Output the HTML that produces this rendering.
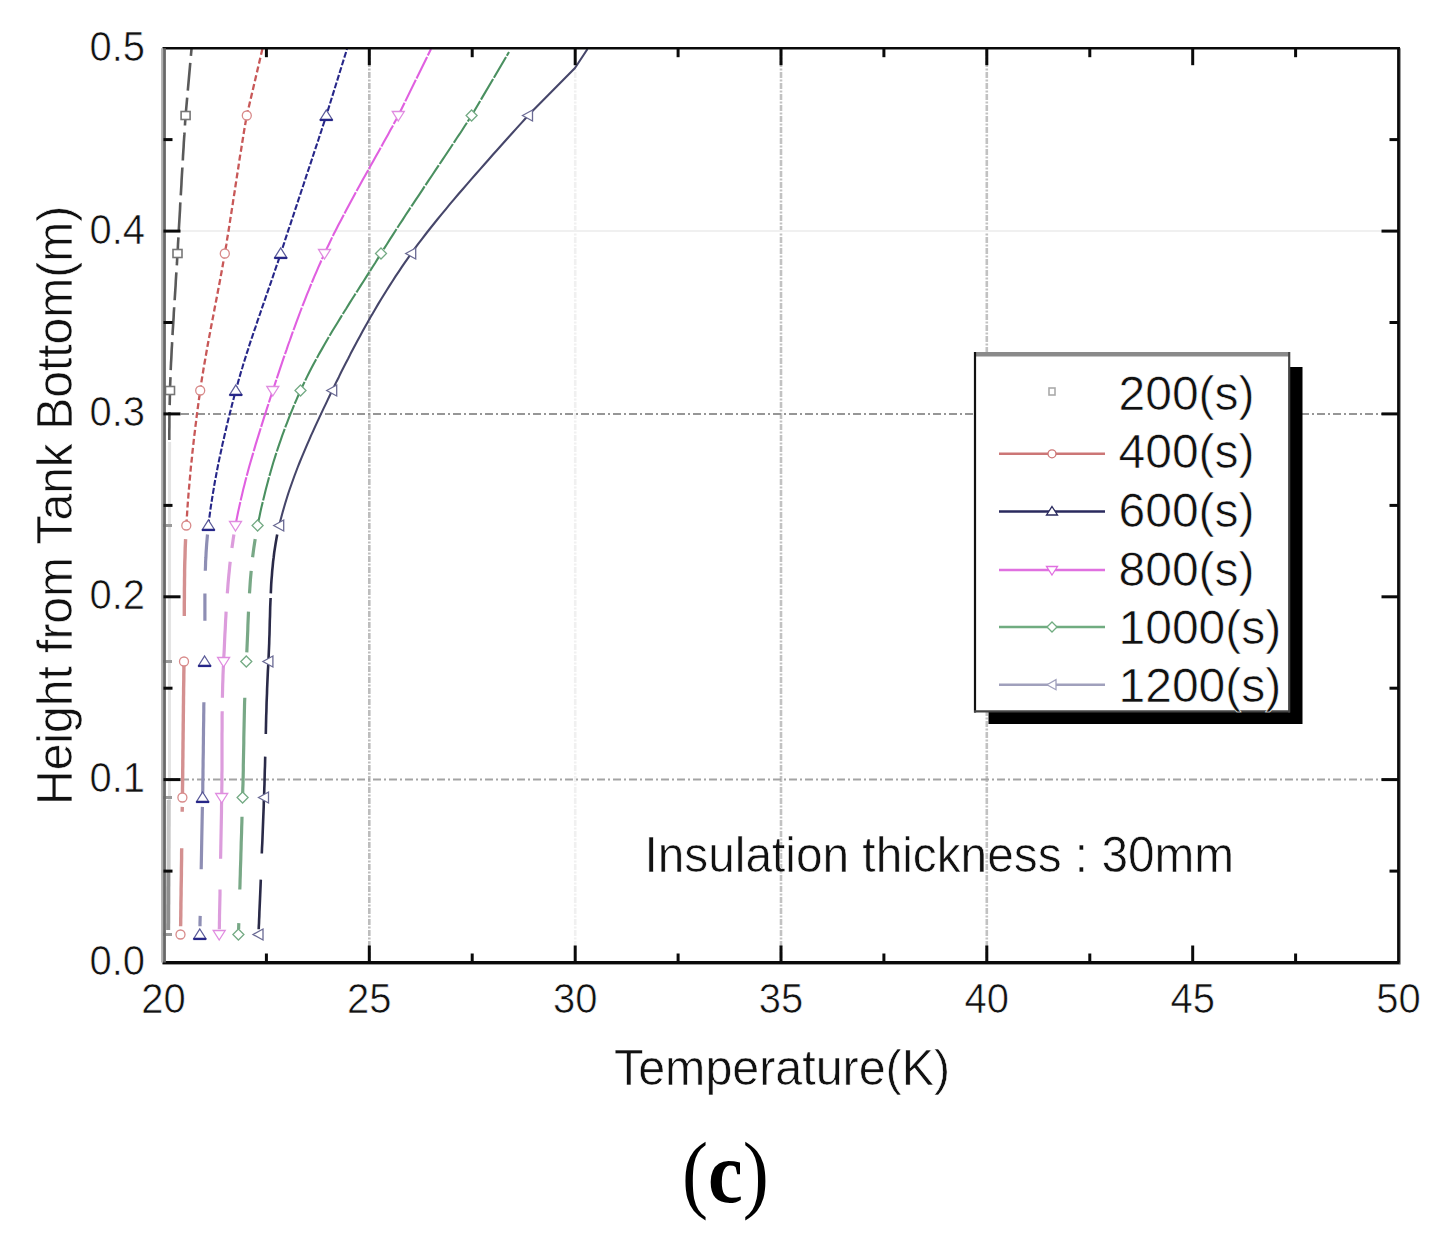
<!DOCTYPE html><html><head><meta charset="utf-8"><style>html,body{margin:0;padding:0;background:#fff;overflow:hidden;}svg{display:block;}text{font-family:"Liberation Sans",sans-serif;stroke:#fff;stroke-width:0.6px;}</style></head><body>
<svg width="1446" height="1250" viewBox="0 0 1446 1250">
<rect width="1446" height="1250" fill="#fff"/>
<line x1="369.3" y1="50" x2="369.3" y2="961" stroke="#bdbdbd" stroke-width="2.6" stroke-dasharray="6,1.5,2,1.5"/>
<line x1="575.2" y1="50" x2="575.2" y2="961" stroke="#f0f0f0" stroke-width="2.6" stroke-dasharray="6,1.5,2,1.5"/>
<line x1="781.0" y1="50" x2="781.0" y2="961" stroke="#c2c2c2" stroke-width="2.6" stroke-dasharray="6,1.5,2,1.5"/>
<line x1="986.8" y1="50" x2="986.8" y2="961" stroke="#c2c2c2" stroke-width="2.6" stroke-dasharray="6,1.5,2,1.5"/>
<line x1="165" y1="413.9" x2="1397" y2="413.9" stroke="#969696" stroke-width="2" stroke-dasharray="8,3,2,3"/>
<line x1="165" y1="779.6" x2="1397" y2="779.6" stroke="#a4a4a4" stroke-width="2" stroke-dasharray="8,3,2,3"/>
<line x1="165" y1="231.1" x2="1397" y2="231.1" stroke="#f0f0f0" stroke-width="2" stroke-dasharray="none"/>
<line x1="169.5" y1="800" x2="169.6" y2="442" stroke="#e4e4e4" stroke-width="3"/>
<line x1="168.6" y1="870" x2="168.8" y2="800" stroke="#c8c8c8" stroke-width="4"/>
<line x1="168.2" y1="930" x2="168.4" y2="870" stroke="#8e8e8e" stroke-width="4"/>
<path d="M169.3,440.1 L169.3,435.6 L169.3,431.1 L169.4,426.6 L169.4,422.1 L169.4,417.6 L169.5,413.1 L169.6,408.6 L169.7,404.1 L169.8,399.6 L169.9,395.0 L170.0,390.5 L170.1,386.0 L170.3,381.4 L170.5,376.9 L170.6,372.3 L170.8,367.8 L171.0,363.2 L171.3,358.7 L171.5,354.1 L171.7,349.6 L172.0,345.0 L172.2,340.5 L172.5,335.9 L172.7,331.3 L173.0,326.8 L173.3,322.2 L173.6,317.6 L173.8,313.0 L174.1,308.5 L174.4,303.9 L174.7,299.3 L175.0,294.7 L175.3,290.2 L175.6,285.6 L175.8,281.0 L176.1,276.4 L176.4,271.8 L176.7,267.2 L177.0,262.7 L177.2,258.1 L177.5,253.5 L177.8,248.9 L178.0,244.2 L178.3,239.4 L178.6,234.6 L178.8,229.7 L179.1,224.8 L179.4,219.9 L179.7,214.9 L180.0,209.9 L180.2,204.9 L180.5,199.9 L180.8,194.9 L181.1,190.0 L181.4,185.0 L181.6,180.1 L181.9,175.2 L182.2,170.4 L182.5,165.6 L182.8,160.9 L183.0,156.2 L183.3,151.7 L183.6,147.2 L183.8,142.8 L184.1,138.5 L184.4,134.4 L184.6,130.3 L184.9,126.4 L185.1,122.6 L185.4,119.0 L185.6,115.5 L191.5,49.0" fill="none" stroke="#5a5a5a" stroke-width="2.6" stroke-dasharray="28,7" stroke-linejoin="round"/>
<path d="M184.3,616.1 L184.3,611.6 L184.3,607.1 L184.3,602.5 L184.4,598.0 L184.4,593.4 L184.4,588.9 L184.5,584.4 L184.5,579.8 L184.6,575.3 L184.6,570.8 L184.7,566.2 L184.8,561.7 L185.0,557.2 L185.1,552.6 L185.2,548.1 L185.4,543.6 L185.6,539.1 M182.5,793.0 L182.5,788.4 L182.6,783.9 L182.6,779.3 L182.7,774.8 L182.7,770.2 L182.8,765.7 L182.8,761.2 L182.9,756.6 L182.9,752.1 L183.0,747.6 L183.0,743.0 L183.1,738.5 L183.1,734.0 L183.2,729.4 L183.2,724.9 L183.3,720.4 L183.3,715.9 L183.4,711.3 L183.4,706.8 L183.5,702.3 L183.5,697.7 L183.6,693.2 L183.6,688.7 L183.7,684.2 L183.8,679.6 L183.8,675.1 L183.9,670.6 L183.9,666.0 M182.2,811.8 L182.3,806.9 M180.6,926.3 L180.7,923.1 L180.7,919.6 L180.8,915.9 L180.8,911.9 L180.9,907.8 L180.9,903.4 L181.0,898.9 L181.1,894.3 L181.1,889.5 L181.2,884.6 L181.3,879.6 L181.4,874.5 L181.4,869.3 L181.5,864.1 L181.6,858.8 L181.6,853.5 L181.7,848.2" fill="none" stroke="#d49090" stroke-width="3.4"/>
<path d="M186.3,525.5 L186.6,521.0 L186.9,516.5 L187.2,512.0 L187.5,507.5 L187.8,503.0 L188.2,498.5 L188.5,494.0 L188.9,489.5 L189.3,485.0 L189.7,480.5 L190.1,476.0 L190.5,471.5 L190.9,467.0 L191.4,462.5 L191.9,458.1 L192.3,453.6 L192.8,449.1 L193.3,444.6 L193.8,440.1 L194.3,435.6 L194.9,431.1 L195.4,426.6 L196.0,422.1 L196.5,417.6 L197.1,413.1 L197.7,408.6 L198.3,404.1 L198.9,399.6 L199.6,395.0 L200.2,390.5 L200.9,386.0 L201.5,381.4 L202.2,376.9 L203.0,372.3 L203.7,367.8 L204.5,363.2 L205.3,358.7 L206.1,354.1 L206.9,349.6 L207.7,345.0 L208.5,340.5 L209.4,335.9 L210.3,331.3 L211.1,326.8 L212.0,322.2 L212.9,317.6 L213.8,313.0 L214.6,308.5 L215.5,303.9 L216.4,299.3 L217.3,294.7 L218.1,290.2 L219.0,285.6 L219.9,281.0 L220.7,276.4 L221.6,271.8 L222.4,267.2 L223.2,262.7 L224.0,258.1 L224.8,253.5 L225.6,248.9 L226.4,244.2 L227.1,239.4 L227.9,234.6 L228.7,229.7 L229.5,224.8 L230.2,219.9 L231.0,214.9 L231.8,209.9 L232.6,204.9 L233.3,199.9 L234.1,194.9 L234.9,190.0 L235.6,185.0 L236.4,180.1 L237.1,175.2 L237.9,170.4 L238.6,165.6 L239.3,160.9 L240.0,156.2 L240.8,151.7 L241.5,147.2 L242.2,142.8 L242.9,138.5 L243.5,134.4 L244.2,130.3 L244.9,126.4 L245.5,122.6 L246.2,119.0 L246.8,115.5 L262.4,49.0" fill="none" stroke="#c85858" stroke-width="2.3" stroke-dasharray="6,3" stroke-linejoin="round"/>
<path d="M205.3,570.8 L205.5,566.2 L205.6,561.7 L205.9,557.2 L206.1,552.6 L206.4,548.1 L206.7,543.6 L207.1,539.1 L207.5,534.5 M204.9,620.7 L204.9,616.1 L204.9,611.6 L204.9,607.1 L204.9,602.5 L204.9,598.0 L204.9,593.4 M202.7,793.0 L202.8,788.4 L202.8,783.9 L202.9,779.3 L203.0,774.8 L203.0,770.2 L203.1,765.7 L203.1,761.2 L203.2,756.6 L203.3,752.1 L203.3,747.6 L203.4,743.0 L203.4,738.5 L203.5,734.0 L203.5,729.4 L203.6,724.9 L203.7,720.4 L203.7,715.9 L203.8,711.3 L203.8,706.8 L203.9,702.3 M201.2,869.3 L201.3,864.1 L201.4,858.8 L201.5,853.5 L201.6,848.2 L201.7,842.8 L201.8,837.5 L201.9,832.3 L202.0,827.0 L202.1,821.9 L202.2,816.8 L202.3,811.8 L202.4,806.9 M200.0,926.3 L200.0,923.1 L200.1,919.6 L200.2,915.9" fill="none" stroke="#8e8eb4" stroke-width="3.2"/>
<path d="M208.4,525.5 L208.9,521.0 L209.5,516.5 L210.1,512.0 L210.7,507.5 L211.4,503.0 L212.1,498.5 L212.8,494.0 L213.6,489.5 L214.3,485.0 L215.1,480.5 L216.0,476.0 L216.8,471.5 L217.7,467.0 L218.6,462.5 L219.5,458.1 L220.5,453.6 L221.5,449.1 L222.4,444.6 L223.5,440.1 L224.5,435.6 L225.6,431.1 L226.6,426.6 L227.7,422.1 L228.8,417.6 L229.9,413.1 L231.1,408.6 L232.2,404.1 L233.4,399.6 L234.6,395.0 L235.8,390.5 L237.0,386.0 L238.3,381.4 L239.6,376.9 L240.9,372.3 L242.3,367.8 L243.6,363.2 L245.1,358.7 L246.5,354.1 L248.0,349.6 L249.4,345.0 L250.9,340.5 L252.5,335.9 L254.0,331.3 L255.6,326.8 L257.1,322.2 L258.7,317.6 L260.3,313.0 L261.8,308.5 L263.4,303.9 L265.0,299.3 L266.6,294.7 L268.2,290.2 L269.8,285.6 L271.4,281.0 L273.0,276.4 L274.5,271.8 L276.1,267.2 L277.7,262.7 L279.2,258.1 L280.7,253.5 L282.2,248.9 L283.8,244.2 L285.3,239.4 L286.9,234.6 L288.5,229.7 L290.2,224.8 L291.8,219.9 L293.5,214.9 L295.1,209.9 L296.8,204.9 L298.4,199.9 L300.1,194.9 L301.7,190.0 L303.4,185.0 L305.0,180.1 L306.6,175.2 L308.2,170.4 L309.8,165.6 L311.4,160.9 L312.9,156.2 L314.4,151.7 L315.9,147.2 L317.4,142.8 L318.8,138.5 L320.1,134.4 L321.5,130.3 L322.7,126.4 L324.0,122.6 L325.2,119.0 L326.3,115.5 L347.0,49.0" fill="none" stroke="#262688" stroke-width="2.1" stroke-dasharray="6,2" stroke-linejoin="round"/>
<path d="M231.9,548.1 L232.6,543.6 L233.2,539.1 L233.9,534.5 M227.3,593.4 L227.7,588.9 L228.0,584.4 L228.4,579.8 L228.8,575.3 L229.3,570.8 L229.7,566.2 L230.2,561.7 M223.8,657.0 L224.1,652.4 L224.3,647.9 L224.5,643.4 L224.7,638.8 L224.9,634.3 L225.2,629.7 L225.4,625.2 L225.6,620.7 L225.9,616.1 L226.1,611.6 M222.4,697.7 L222.5,693.2 L222.6,688.7 L222.7,684.2 L222.9,679.6 L223.0,675.1 L223.2,670.6 L223.4,666.0 M220.6,858.8 L220.7,853.5 L220.8,848.2 L220.9,842.8 L221.0,837.5 L221.1,832.3 L221.2,827.0 L221.3,821.9 L221.4,816.8 L221.5,811.8 L221.5,806.9 L221.6,802.1 L221.7,797.5 L221.8,793.0 L221.8,788.4 L221.9,783.9 L221.9,779.3 L221.9,774.8 L222.0,770.2 L222.0,765.7 L222.0,761.2 L222.0,756.6 L222.0,752.1 L222.0,747.6 L222.0,743.0 L222.0,738.5 L222.0,734.0 L222.1,729.4 L222.1,724.9 L222.1,720.4 L222.1,715.9 L222.2,711.3 M219.3,929.3 L219.4,926.3 L219.4,923.1 L219.5,919.6 L219.5,915.9 L219.6,911.9 L219.7,907.8 L219.8,903.4 L219.9,898.9 L220.0,894.3 L220.0,889.5" fill="none" stroke="#dc9cdc" stroke-width="3.2"/>
<path d="M235.5,525.5 L236.3,521.0 L237.2,516.5 L238.1,512.0 L239.1,507.5 L240.1,503.0 L241.1,498.5 L242.2,494.0 L243.2,489.5 L244.4,485.0 L245.5,480.5 L246.7,476.0 L247.9,471.5 L249.1,467.0 L250.4,462.5 L251.7,458.1 L253.0,453.6 L254.3,449.1 L255.6,444.6 L257.0,440.1 L258.4,435.6 L259.8,431.1 L261.2,426.6 L262.6,422.1 L264.0,417.6 L265.5,413.1 L266.9,408.6 L268.4,404.1 L269.8,399.6 L271.3,395.0 L272.8,390.5 L274.3,386.0 L275.8,381.4 L277.3,376.9 L278.8,372.3 L280.3,367.8 L281.9,363.2 L283.4,358.7 L285.0,354.1 L286.6,349.6 L288.1,345.0 L289.8,340.5 L291.4,335.9 L293.0,331.3 L294.7,326.8 L296.4,322.2 L298.1,317.6 L299.8,313.0 L301.5,308.5 L303.3,303.9 L305.1,299.3 L306.9,294.7 L308.8,290.2 L310.6,285.6 L312.5,281.0 L314.4,276.4 L316.4,271.8 L318.4,267.2 L320.4,262.7 L322.4,258.1 L324.5,253.5 L326.6,248.9 L328.9,244.2 L331.2,239.4 L333.5,234.6 L336.0,229.7 L338.5,224.8 L341.1,219.9 L343.7,214.9 L346.3,209.9 L349.0,204.9 L351.7,199.9 L354.4,194.9 L357.1,190.0 L359.9,185.0 L362.6,180.1 L365.3,175.2 L368.0,170.4 L370.7,165.6 L373.3,160.9 L375.9,156.2 L378.5,151.7 L381.0,147.2 L383.4,142.8 L385.8,138.5 L388.1,134.4 L390.3,130.3 L392.5,126.4 L394.5,122.6 L396.5,119.0 L398.3,115.5 L431.0,49.0" fill="none" stroke="#e060e0" stroke-width="2.1" stroke-dasharray="24,1.5" stroke-linejoin="round"/>
<path d="M252.6,557.2 L253.2,552.6 L253.8,548.1 L254.5,543.6 L255.2,539.1 M249.5,593.4 L249.8,588.9 L250.1,584.4 L250.4,579.8 L250.8,575.3 L251.2,570.8 M246.8,652.4 L247.0,647.9 L247.2,643.4 L247.4,638.8 L247.6,634.3 L247.8,629.7 L247.9,625.2 L248.1,620.7 L248.3,616.1 L248.5,611.6 M242.7,793.0 L242.8,788.4 L243.0,783.9 L243.1,779.3 L243.2,774.8 L243.3,770.2 L243.3,765.7 L243.4,761.2 L243.5,756.6 L243.6,752.1 L243.7,747.6 L243.8,743.0 L243.8,738.5 L243.9,734.0 L244.0,729.4 L244.1,724.9 L244.2,720.4 L244.3,715.9 L244.4,711.3 L244.5,706.8 L244.6,702.3 L244.8,697.7 M239.8,889.5 L240.0,884.6 L240.1,879.6 L240.3,874.5 L240.4,869.3 L240.6,864.1 L240.8,858.8 L240.9,853.5 L241.1,848.2 L241.2,842.8 L241.4,837.5 L241.6,832.3 L241.7,827.0 L241.9,821.9 L242.0,816.8 M238.6,929.3 L238.7,926.3 L238.8,923.1" fill="none" stroke="#78a886" stroke-width="3.2"/>
<path d="M257.6,525.5 L258.5,521.0 L259.5,516.5 L260.4,512.0 L261.4,507.5 L262.5,503.0 L263.6,498.5 L264.7,494.0 L265.8,489.5 L267.0,485.0 L268.2,480.5 L269.4,476.0 L270.7,471.5 L272.0,467.0 L273.3,462.5 L274.7,458.1 L276.1,453.6 L277.6,449.1 L279.1,444.6 L280.7,440.1 L282.2,435.6 L283.9,431.1 L285.5,426.6 L287.3,422.1 L289.0,417.6 L290.8,413.1 L292.7,408.6 L294.5,404.1 L296.5,399.6 L298.5,395.0 L300.5,390.5 L302.6,386.0 L304.8,381.4 L307.0,376.9 L309.3,372.3 L311.6,367.8 L314.0,363.2 L316.5,358.7 L319.0,354.1 L321.6,349.6 L324.2,345.0 L326.8,340.5 L329.5,335.9 L332.2,331.3 L335.0,326.8 L337.8,322.2 L340.6,317.6 L343.4,313.0 L346.3,308.5 L349.1,303.9 L352.0,299.3 L354.9,294.7 L357.8,290.2 L360.7,285.6 L363.7,281.0 L366.6,276.4 L369.5,271.8 L372.4,267.2 L375.3,262.7 L378.1,258.1 L381.0,253.5 L383.9,248.9 L386.9,244.2 L389.9,239.4 L393.0,234.6 L396.1,229.7 L399.3,224.8 L402.6,219.8 L405.8,214.8 L409.1,209.8 L412.4,204.8 L415.7,199.8 L419.1,194.8 L422.4,189.8 L425.7,184.8 L429.0,179.9 L432.3,175.0 L435.5,170.2 L438.7,165.4 L441.9,160.7 L445.0,156.0 L448.0,151.5 L451.0,147.0 L453.9,142.6 L456.7,138.3 L459.5,134.2 L462.1,130.2 L464.6,126.3 L467.1,122.5 L469.4,118.9 L471.6,115.5 L509.0,52.0" fill="none" stroke="#4a9060" stroke-width="2.1" stroke-dasharray="24,1.5" stroke-linejoin="round"/>
<path d="M270.8,593.4 L271.0,588.9 L271.2,584.4 L271.5,579.8 L271.9,575.3 L272.2,570.8 L272.7,566.2 L273.1,561.7 L273.7,557.2 L274.2,552.6 L274.9,548.1 L275.6,543.6 L276.4,539.1 L277.2,534.5 M265.8,734.0 L265.9,729.4 L266.0,724.9 L266.1,720.4 L266.2,715.9 L266.4,711.3 L266.5,706.8 L266.6,702.3 L266.8,697.7 L267.0,693.2 L267.1,688.7 L267.3,684.2 L267.5,679.6 L267.7,675.1 L267.9,670.6 L268.2,666.0 L268.4,661.5 L268.6,657.0 L268.8,652.4 L269.0,647.9 L269.2,643.4 L269.3,638.8 L269.5,634.3 L269.6,629.7 L269.7,625.2 L269.8,620.7 L270.0,616.1 L270.1,611.6 L270.2,607.1 L270.4,602.5 L270.6,598.0 M261.8,853.5 L262.0,848.2 L262.3,842.8 L262.5,837.5 L262.7,832.3 L262.9,827.0 L263.1,821.9 L263.3,816.8 L263.5,811.8 L263.7,806.9 L263.8,802.1 L264.0,797.5 L264.2,793.0 L264.3,788.4 L264.5,783.9 L264.6,779.3 L264.7,774.8 L264.8,770.2 L265.0,765.7 L265.1,761.2 L265.2,756.6 M258.7,929.3 L258.8,926.3 L259.0,923.1 L259.1,919.6 L259.3,915.9 L259.4,911.9 L259.6,907.8 L259.8,903.4 L260.0,898.9 L260.2,894.3 L260.4,889.5 L260.6,884.6 L260.8,879.6" fill="none" stroke="#2a2a48" stroke-width="2.6"/>
<path d="M279.2,525.5 L280.3,521.0 L281.5,516.5 L282.7,512.0 L284.0,507.5 L285.3,503.0 L286.7,498.5 L288.1,494.0 L289.6,489.5 L291.2,485.0 L292.8,480.5 L294.4,476.0 L296.1,471.5 L297.8,467.0 L299.6,462.5 L301.4,458.1 L303.3,453.6 L305.2,449.1 L307.1,444.6 L309.1,440.1 L311.0,435.6 L313.1,431.1 L315.1,426.6 L317.2,422.1 L319.3,417.6 L321.4,413.1 L323.5,408.6 L325.7,404.1 L327.8,399.6 L330.0,395.0 L332.2,390.5 L334.4,386.0 L336.6,381.4 L338.9,376.9 L341.1,372.3 L343.4,367.8 L345.7,363.2 L348.1,358.7 L350.4,354.1 L352.8,349.6 L355.2,345.0 L357.6,340.5 L360.1,335.9 L362.6,331.3 L365.1,326.8 L367.7,322.2 L370.3,317.6 L373.0,313.0 L375.6,308.5 L378.3,303.9 L381.1,299.3 L383.9,294.7 L386.7,290.2 L389.6,285.6 L392.6,281.0 L395.5,276.4 L398.6,271.8 L401.7,267.2 L404.8,262.7 L408.0,258.1 L411.2,253.5 L414.5,248.9 L418.0,244.1 L421.7,239.3 L425.4,234.5 L429.3,229.5 L433.3,224.5 L437.3,219.5 L441.5,214.4 L445.7,209.3 L449.9,204.2 L454.2,199.1 L458.5,194.0 L462.9,189.0 L467.3,183.9 L471.6,178.9 L475.9,174.0 L480.2,169.1 L484.5,164.2 L488.7,159.5 L492.8,154.8 L496.9,150.3 L500.9,145.8 L504.7,141.5 L508.5,137.3 L512.1,133.3 L515.6,129.4 L519.0,125.6 L522.2,122.1 L525.2,118.7 L528.0,115.5 L575.0,68.0 L587.5,49.0" fill="none" stroke="#46466a" stroke-width="2.1" stroke-linejoin="round"/>
<rect x="163" y="933.0" width="9" height="3" fill="#9a9a9a"/>
<rect x="163" y="796.0" width="9" height="3" fill="#9a9a9a"/>
<rect x="163" y="660.0" width="9" height="3" fill="#9a9a9a"/>
<rect x="163" y="524.0" width="9" height="3" fill="#9a9a9a"/>
<rect x="165.5" y="386.5" width="9" height="8" fill="#fff" stroke="#777777" stroke-width="1.6"/>
<rect x="173.0" y="249.5" width="9" height="8" fill="#fff" stroke="#777777" stroke-width="1.6"/>
<rect x="181.1" y="111.5" width="9" height="8" fill="#fff" stroke="#777777" stroke-width="1.6"/>
<circle cx="180.5" cy="934.5" r="4.5" fill="#fff" stroke="#d88a8a" stroke-width="1.3"/>
<circle cx="182.4" cy="797.5" r="4.5" fill="#fff" stroke="#d88a8a" stroke-width="1.3"/>
<circle cx="184.0" cy="661.5" r="4.5" fill="#fff" stroke="#d88a8a" stroke-width="1.3"/>
<circle cx="186.3" cy="525.5" r="4.5" fill="#fff" stroke="#d88a8a" stroke-width="1.3"/>
<circle cx="200.2" cy="390.5" r="4.5" fill="#fff" stroke="#d88a8a" stroke-width="1.3"/>
<circle cx="224.8" cy="253.5" r="4.5" fill="#fff" stroke="#d88a8a" stroke-width="1.3"/>
<circle cx="246.8" cy="115.5" r="4.5" fill="#fff" stroke="#d88a8a" stroke-width="1.3"/>
<path d="M199.8,929.0 L205.8,938.5 L193.8,938.5Z" fill="#fff" stroke="#5a5a98" stroke-width="1.3"/>
<line x1="193.3" y1="939.0" x2="206.3" y2="939.0" stroke="#262688" stroke-width="2.2"/>
<path d="M202.6,792.0 L208.6,801.5 L196.6,801.5Z" fill="#fff" stroke="#5a5a98" stroke-width="1.3"/>
<line x1="196.1" y1="802.0" x2="209.1" y2="802.0" stroke="#262688" stroke-width="2.2"/>
<path d="M204.6,656.0 L210.6,665.5 L198.6,665.5Z" fill="#fff" stroke="#5a5a98" stroke-width="1.3"/>
<line x1="198.1" y1="666.0" x2="211.1" y2="666.0" stroke="#262688" stroke-width="2.2"/>
<path d="M208.4,520.0 L214.4,529.5 L202.4,529.5Z" fill="#fff" stroke="#5a5a98" stroke-width="1.3"/>
<line x1="201.9" y1="530.0" x2="214.9" y2="530.0" stroke="#262688" stroke-width="2.2"/>
<path d="M235.8,385.0 L241.8,394.5 L229.8,394.5Z" fill="#fff" stroke="#5a5a98" stroke-width="1.3"/>
<line x1="229.3" y1="395.0" x2="242.3" y2="395.0" stroke="#262688" stroke-width="2.2"/>
<path d="M280.7,248.0 L286.7,257.5 L274.7,257.5Z" fill="#fff" stroke="#5a5a98" stroke-width="1.3"/>
<line x1="274.2" y1="258.0" x2="287.2" y2="258.0" stroke="#262688" stroke-width="2.2"/>
<path d="M326.3,110.0 L332.3,119.5 L320.3,119.5Z" fill="#fff" stroke="#5a5a98" stroke-width="1.3"/>
<line x1="319.8" y1="120.0" x2="332.8" y2="120.0" stroke="#262688" stroke-width="2.2"/>
<path d="M219.2,940.0 L225.2,930.5 L213.2,930.5Z" fill="#fff" stroke="#e08ce0" stroke-width="1.3"/>
<path d="M221.7,803.0 L227.7,793.5 L215.7,793.5Z" fill="#fff" stroke="#e08ce0" stroke-width="1.3"/>
<path d="M223.6,667.0 L229.6,657.5 L217.6,657.5Z" fill="#fff" stroke="#e08ce0" stroke-width="1.3"/>
<path d="M235.5,531.0 L241.5,521.5 L229.5,521.5Z" fill="#fff" stroke="#e08ce0" stroke-width="1.3"/>
<path d="M272.8,396.0 L278.8,386.5 L266.8,386.5Z" fill="#fff" stroke="#e08ce0" stroke-width="1.3"/>
<path d="M324.5,259.0 L330.5,249.5 L318.5,249.5Z" fill="#fff" stroke="#e08ce0" stroke-width="1.3"/>
<path d="M398.3,121.0 L404.3,111.5 L392.3,111.5Z" fill="#fff" stroke="#e08ce0" stroke-width="1.3"/>
<path d="M238.4,929.0 L243.9,934.5 L238.4,940.0 L232.9,934.5Z" fill="#fff" stroke="#74aa84" stroke-width="1.3"/>
<path d="M242.6,792.0 L248.1,797.5 L242.6,803.0 L237.1,797.5Z" fill="#fff" stroke="#74aa84" stroke-width="1.3"/>
<path d="M246.3,656.0 L251.8,661.5 L246.3,667.0 L240.8,661.5Z" fill="#fff" stroke="#74aa84" stroke-width="1.3"/>
<path d="M257.6,520.0 L263.1,525.5 L257.6,531.0 L252.1,525.5Z" fill="#fff" stroke="#74aa84" stroke-width="1.3"/>
<path d="M300.5,385.0 L306.0,390.5 L300.5,396.0 L295.0,390.5Z" fill="#fff" stroke="#74aa84" stroke-width="1.3"/>
<path d="M381.0,248.0 L386.5,253.5 L381.0,259.0 L375.5,253.5Z" fill="#fff" stroke="#74aa84" stroke-width="1.3"/>
<path d="M471.6,110.0 L477.1,115.5 L471.6,121.0 L466.1,115.5Z" fill="#fff" stroke="#74aa84" stroke-width="1.3"/>
<path d="M253.0,934.5 L263.0,929.0 L263.0,940.0Z" fill="#fff" stroke="#6a6a94" stroke-width="1.3"/>
<path d="M258.5,797.5 L268.5,792.0 L268.5,803.0Z" fill="#fff" stroke="#6a6a94" stroke-width="1.3"/>
<path d="M262.9,661.5 L272.9,656.0 L272.9,667.0Z" fill="#fff" stroke="#6a6a94" stroke-width="1.3"/>
<path d="M273.7,525.5 L283.7,520.0 L283.7,531.0Z" fill="#fff" stroke="#6a6a94" stroke-width="1.3"/>
<path d="M326.7,390.5 L336.7,385.0 L336.7,396.0Z" fill="#fff" stroke="#6a6a94" stroke-width="1.3"/>
<path d="M405.7,253.5 L415.7,248.0 L415.7,259.0Z" fill="#fff" stroke="#6a6a94" stroke-width="1.3"/>
<path d="M522.5,115.5 L532.5,110.0 L532.5,121.0Z" fill="#fff" stroke="#6a6a94" stroke-width="1.3"/>
<line x1="162.5" y1="48.2" x2="1400.0" y2="48.2" stroke="#0a0a0a" stroke-width="2.6"/>
<line x1="162.5" y1="964.1" x2="1400.0" y2="964.1" stroke="#9a9a9a" stroke-width="1.6"/>
<line x1="162.5" y1="962.5" x2="1400.0" y2="962.5" stroke="#0a0a0a" stroke-width="3"/>
<line x1="1400.3" y1="48.2" x2="1400.3" y2="964.5" stroke="#9a9a9a" stroke-width="1.4"/>
<line x1="1398.5" y1="48.2" x2="1398.5" y2="962.5" stroke="#0a0a0a" stroke-width="2.8"/>
<line x1="162.1" y1="48.2" x2="162.1" y2="962.5" stroke="#b0b0b0" stroke-width="2"/>
<line x1="164.5" y1="48.2" x2="164.5" y2="962.5" stroke="#686868" stroke-width="2.8"/>
<line x1="266.4" y1="962.5" x2="266.4" y2="953.5" stroke="#0a0a0a" stroke-width="3"/>
<line x1="266.4" y1="48.2" x2="266.4" y2="57.2" stroke="#0a0a0a" stroke-width="3"/>
<line x1="369.3" y1="962.5" x2="369.3" y2="945.5" stroke="#0a0a0a" stroke-width="3"/>
<line x1="369.3" y1="48.2" x2="369.3" y2="65.2" stroke="#0a0a0a" stroke-width="3"/>
<line x1="472.2" y1="962.5" x2="472.2" y2="953.5" stroke="#0a0a0a" stroke-width="3"/>
<line x1="472.2" y1="48.2" x2="472.2" y2="57.2" stroke="#0a0a0a" stroke-width="3"/>
<line x1="575.2" y1="962.5" x2="575.2" y2="945.5" stroke="#0a0a0a" stroke-width="3"/>
<line x1="575.2" y1="48.2" x2="575.2" y2="65.2" stroke="#0a0a0a" stroke-width="3"/>
<line x1="678.1" y1="962.5" x2="678.1" y2="953.5" stroke="#0a0a0a" stroke-width="3"/>
<line x1="678.1" y1="48.2" x2="678.1" y2="57.2" stroke="#0a0a0a" stroke-width="3"/>
<line x1="781.0" y1="962.5" x2="781.0" y2="945.5" stroke="#0a0a0a" stroke-width="3"/>
<line x1="781.0" y1="48.2" x2="781.0" y2="65.2" stroke="#0a0a0a" stroke-width="3"/>
<line x1="883.9" y1="962.5" x2="883.9" y2="953.5" stroke="#0a0a0a" stroke-width="3"/>
<line x1="883.9" y1="48.2" x2="883.9" y2="57.2" stroke="#0a0a0a" stroke-width="3"/>
<line x1="986.8" y1="962.5" x2="986.8" y2="945.5" stroke="#0a0a0a" stroke-width="3"/>
<line x1="986.8" y1="48.2" x2="986.8" y2="65.2" stroke="#0a0a0a" stroke-width="3"/>
<line x1="1089.8" y1="962.5" x2="1089.8" y2="953.5" stroke="#0a0a0a" stroke-width="3"/>
<line x1="1089.8" y1="48.2" x2="1089.8" y2="57.2" stroke="#0a0a0a" stroke-width="3"/>
<line x1="1192.7" y1="962.5" x2="1192.7" y2="945.5" stroke="#0a0a0a" stroke-width="3"/>
<line x1="1192.7" y1="48.2" x2="1192.7" y2="65.2" stroke="#0a0a0a" stroke-width="3"/>
<line x1="1295.6" y1="962.5" x2="1295.6" y2="953.5" stroke="#0a0a0a" stroke-width="3"/>
<line x1="1295.6" y1="48.2" x2="1295.6" y2="57.2" stroke="#0a0a0a" stroke-width="3"/>
<line x1="163.5" y1="871.1" x2="172.5" y2="871.1" stroke="#0a0a0a" stroke-width="3"/>
<line x1="1398.5" y1="871.1" x2="1389.5" y2="871.1" stroke="#0a0a0a" stroke-width="3"/>
<line x1="163.5" y1="779.6" x2="180.5" y2="779.6" stroke="#0a0a0a" stroke-width="3"/>
<line x1="1398.5" y1="779.6" x2="1381.5" y2="779.6" stroke="#0a0a0a" stroke-width="3"/>
<line x1="163.5" y1="688.2" x2="172.5" y2="688.2" stroke="#0a0a0a" stroke-width="3"/>
<line x1="1398.5" y1="688.2" x2="1389.5" y2="688.2" stroke="#0a0a0a" stroke-width="3"/>
<line x1="163.5" y1="596.8" x2="180.5" y2="596.8" stroke="#0a0a0a" stroke-width="3"/>
<line x1="1398.5" y1="596.8" x2="1381.5" y2="596.8" stroke="#0a0a0a" stroke-width="3"/>
<line x1="163.5" y1="505.4" x2="172.5" y2="505.4" stroke="#0a0a0a" stroke-width="3"/>
<line x1="1398.5" y1="505.4" x2="1389.5" y2="505.4" stroke="#0a0a0a" stroke-width="3"/>
<line x1="163.5" y1="413.9" x2="180.5" y2="413.9" stroke="#0a0a0a" stroke-width="3"/>
<line x1="1398.5" y1="413.9" x2="1381.5" y2="413.9" stroke="#0a0a0a" stroke-width="3"/>
<line x1="163.5" y1="322.5" x2="172.5" y2="322.5" stroke="#0a0a0a" stroke-width="3"/>
<line x1="1398.5" y1="322.5" x2="1389.5" y2="322.5" stroke="#0a0a0a" stroke-width="3"/>
<line x1="163.5" y1="231.1" x2="180.5" y2="231.1" stroke="#0a0a0a" stroke-width="3"/>
<line x1="1398.5" y1="231.1" x2="1381.5" y2="231.1" stroke="#0a0a0a" stroke-width="3"/>
<line x1="163.5" y1="139.6" x2="172.5" y2="139.6" stroke="#0a0a0a" stroke-width="3"/>
<line x1="1398.5" y1="139.6" x2="1389.5" y2="139.6" stroke="#0a0a0a" stroke-width="3"/>
<text x="0" y="0" font-size="40" text-anchor="middle" fill="#111" transform="translate(163.5,1012.6) scale(1,1.07)">20</text>
<text x="0" y="0" font-size="40" text-anchor="middle" fill="#111" transform="translate(369.3,1012.6) scale(1,1.07)">25</text>
<text x="0" y="0" font-size="40" text-anchor="middle" fill="#111" transform="translate(575.2,1012.6) scale(1,1.07)">30</text>
<text x="0" y="0" font-size="40" text-anchor="middle" fill="#111" transform="translate(781.0,1012.6) scale(1,1.07)">35</text>
<text x="0" y="0" font-size="40" text-anchor="middle" fill="#111" transform="translate(986.8,1012.6) scale(1,1.07)">40</text>
<text x="0" y="0" font-size="40" text-anchor="middle" fill="#111" transform="translate(1192.7,1012.6) scale(1,1.07)">45</text>
<text x="0" y="0" font-size="40" text-anchor="middle" fill="#111" transform="translate(1398.5,1012.6) scale(1,1.07)">50</text>
<text x="0" y="0" font-size="40" text-anchor="end" fill="#111" transform="translate(145,974.9) scale(1,1.06)">0.0</text>
<text x="0" y="0" font-size="40" text-anchor="end" fill="#111" transform="translate(145,792.0) scale(1,1.06)">0.1</text>
<text x="0" y="0" font-size="40" text-anchor="end" fill="#111" transform="translate(145,609.2) scale(1,1.06)">0.2</text>
<text x="0" y="0" font-size="40" text-anchor="end" fill="#111" transform="translate(145,426.3) scale(1,1.06)">0.3</text>
<text x="0" y="0" font-size="40" text-anchor="end" fill="#111" transform="translate(145,243.5) scale(1,1.06)">0.4</text>
<text x="0" y="0" font-size="40" text-anchor="end" fill="#111" transform="translate(145,60.6) scale(1,1.06)">0.5</text>
<text x="0" y="0" font-size="48.4" fill="#111" transform="translate(614,1085.2) scale(1,1.05)">Temperature(K)</text>
<text x="0" y="0" font-size="48" fill="#111" transform="translate(71.6,805) rotate(-90) scale(1,1.05)">Height from Tank Bottom(m)</text>
<text x="0" y="0" font-size="47.8" fill="#111" transform="translate(644.5,871.6) scale(1,1.05)">Insulation thickness : 30mm</text>
<rect x="988.5" y="367" width="314" height="357" fill="#000"/>
<rect x="975" y="353.5" width="314" height="358" fill="#fff"/>
<line x1="974" y1="354.3" x2="1290" y2="354.3" stroke="#8a8a8a" stroke-width="4.5"/>
<line x1="975" y1="352" x2="975" y2="712.5" stroke="#111" stroke-width="2.2"/>
<line x1="1289.2" y1="352" x2="1289.2" y2="712.5" stroke="#444" stroke-width="2.2"/>
<line x1="974" y1="711.4" x2="1290" y2="711.4" stroke="#444" stroke-width="2.4"/>
<rect x="1049" y="388" width="6" height="7" fill="#fff" stroke="#aaa" stroke-width="1.6"/>
<text x="1118.5" y="410" font-size="48" fill="#111">200(s)</text>
<line x1="999" y1="453.8" x2="1105" y2="453.8" stroke="#cc7676" stroke-width="2.6"/>
<circle cx="1052.0" cy="453.8" r="4" fill="#fff" stroke="#cc7676" stroke-width="1.3"/>
<text x="1118.5" y="468" font-size="48" fill="#111">400(s)</text>
<line x1="999" y1="511.5" x2="1105" y2="511.5" stroke="#2a2a5e" stroke-width="2.6"/>
<path d="M1052.0,506.5 L1057.5,515.0 L1046.5,515.0Z" fill="#fff" stroke="#2a2a5e" stroke-width="1.3"/>
<text x="1118.5" y="527" font-size="48" fill="#111">600(s)</text>
<line x1="999" y1="570" x2="1105" y2="570" stroke="#e070e0" stroke-width="2.6"/>
<path d="M1052.0,575.0 L1057.5,566.5 L1046.5,566.5Z" fill="#fff" stroke="#e070e0" stroke-width="1.3"/>
<text x="1118.5" y="585.5" font-size="48" fill="#111">800(s)</text>
<line x1="999" y1="627" x2="1105" y2="627" stroke="#70ac80" stroke-width="2.6"/>
<path d="M1052.0,622.0 L1057.0,627.0 L1052.0,632.0 L1047.0,627.0Z" fill="#fff" stroke="#70ac80" stroke-width="1.3"/>
<text x="1118.5" y="643.5" font-size="48" fill="#111">1000(s)</text>
<line x1="999" y1="684.7" x2="1105" y2="684.7" stroke="#a0a0bc" stroke-width="2.6"/>
<path d="M1047.0,684.7 L1056.0,679.7 L1056.0,689.7Z" fill="#fff" stroke="#a0a0bc" stroke-width="1.3"/>
<text x="1118.5" y="701.5" font-size="48" fill="#111">1200(s)</text>
<text x="725.5" y="1202" font-size="87" text-anchor="middle" fill="#000" style="font-family:'Liberation Serif',serif;stroke:none" transform="translate(725.5,0) scale(0.9,1) translate(-725.5,0)">(<tspan font-weight="bold">c</tspan>)</text>
</svg></body></html>
